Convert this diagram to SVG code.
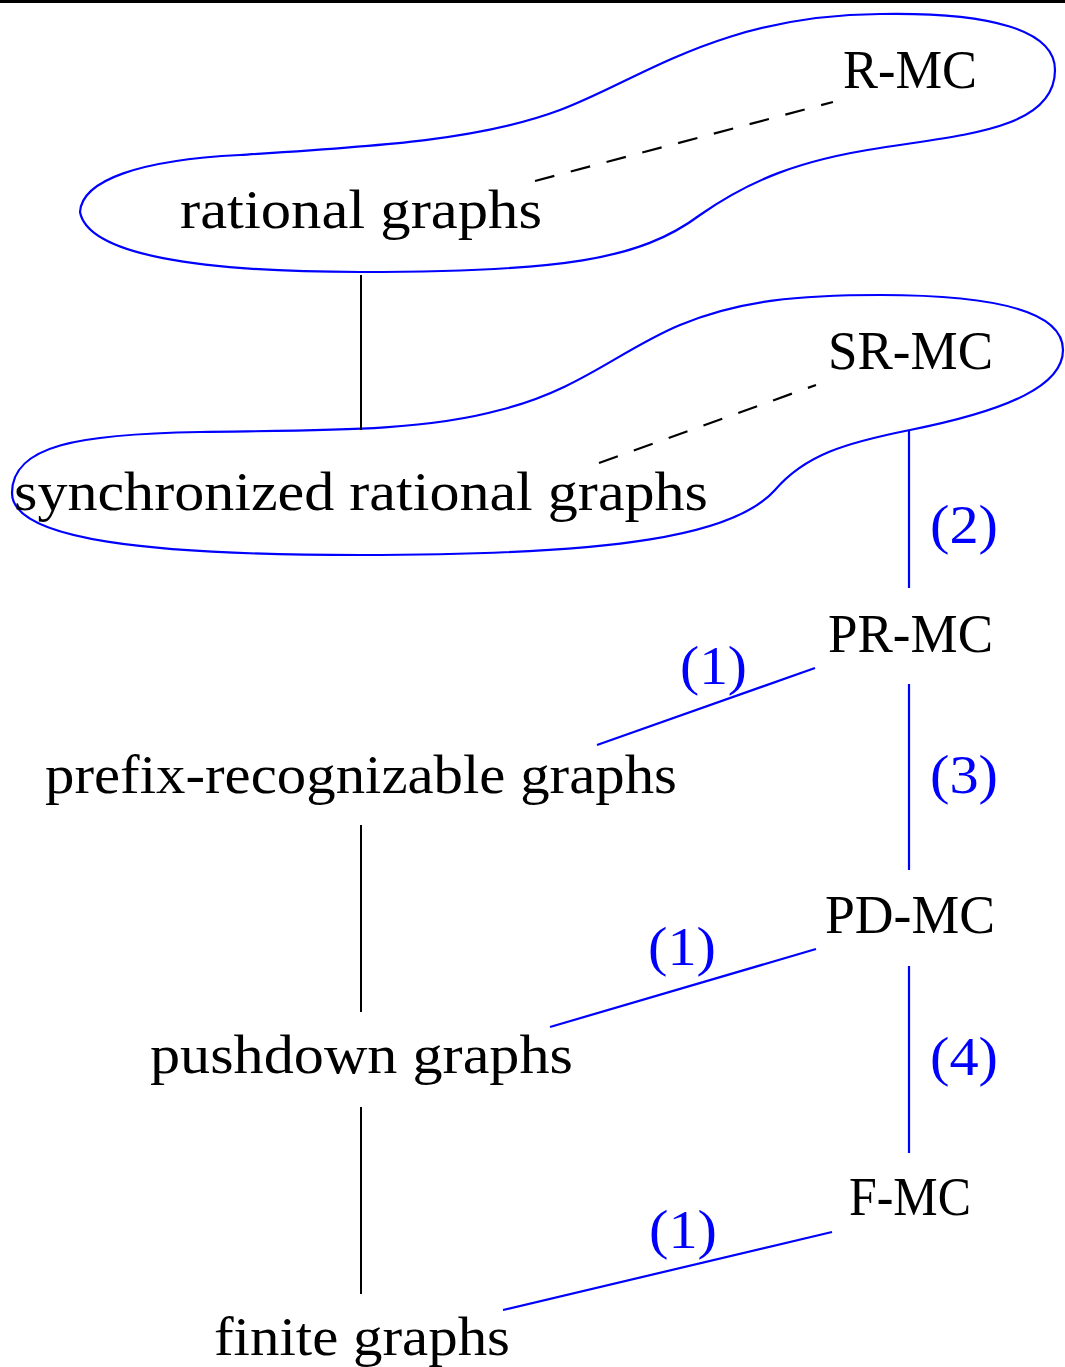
<svg xmlns="http://www.w3.org/2000/svg" width="1065" height="1367" viewBox="0 0 1065 1367">
<style>
text { font-family: "Liberation Serif", "DejaVu Serif", serif; font-size: 54px; fill: #000; }
text.lbl { fill: #0000ff; }
.blk { stroke: #000; stroke-width: 2; fill: none; }
.dash { stroke: #000; stroke-width: 2.2; fill: none; stroke-dasharray: 20 17; }
.blu { stroke: #0000ff; stroke-width: 2.2; fill: none; }
.blob { stroke: #0000ff; stroke-width: 2.2; fill: none; }
</style>
<rect x="0" y="0" width="1065" height="1367" fill="#fff"/>
<line x1="0" y1="1.5" x2="1065" y2="1.5" stroke="#000" stroke-width="3"/>
<g id="blobs">
<path id="blob-rational" class="blob" d="M 80,212 C 82,180 140,160 240,155 C 380,146 480,140 560,110 C 640,80 720,15 880,14 C 990,12 1055,30 1055,70 C 1055,130 960,135 880,148 C 800,160 750,180 700,215 C 640,260 560,272 360,272 C 200,272 88,255 80,212 Z"/>
<path id="blob-sync" class="blob" d="M 12,493 C 12,445 80,434 200,432 C 320,430 420,432 500,410 C 580,390 620,350 680,325 C 740,300 800,295 880,295 C 990,295 1063,310 1063,350 C 1063,385 1010,410 910,430 C 845,443 805,455 775,490 C 735,535 620,555 360,555 C 150,555 12,540 12,493 Z"/>
</g>
<g id="connectors">
<line class="blk" x1="361" y1="275" x2="361" y2="430"/>
<line class="blk" x1="361" y1="825" x2="361" y2="1012"/>
<line class="blk" x1="361" y1="1107" x2="361" y2="1294"/>
<line class="dash" x1="535" y1="181" x2="833" y2="102"/>
<line class="dash" x1="599" y1="463" x2="816" y2="385"/>
<line class="blu" x1="909" y1="431" x2="909" y2="588"/>
<line class="blu" x1="597" y1="745" x2="815" y2="668"/>
<line class="blu" x1="909" y1="684" x2="909" y2="870"/>
<line class="blu" x1="550" y1="1027" x2="816" y2="949"/>
<line class="blu" x1="909" y1="966" x2="909" y2="1153"/>
<line class="blu" x1="503" y1="1310" x2="832" y2="1232"/>
<text class="lbl" x="930" y="543" textLength="68" lengthAdjust="spacingAndGlyphs">(2)</text>
<text class="lbl" x="680" y="684" textLength="67" lengthAdjust="spacingAndGlyphs">(1)</text>
<text class="lbl" x="930" y="793" textLength="68" lengthAdjust="spacingAndGlyphs">(3)</text>
<text class="lbl" x="648" y="965" textLength="68" lengthAdjust="spacingAndGlyphs">(1)</text>
<text class="lbl" x="930" y="1075" textLength="68" lengthAdjust="spacingAndGlyphs">(4)</text>
<text class="lbl" x="649" y="1248" textLength="68" lengthAdjust="spacingAndGlyphs">(1)</text>
</g>
<g id="node-rmc"><text x="843" y="88" textLength="134" lengthAdjust="spacingAndGlyphs">R-MC</text></g>
<g id="node-rational"><text x="180" y="228" textLength="362" lengthAdjust="spacingAndGlyphs">rational graphs</text></g>
<g id="node-srmc"><text x="828" y="369" textLength="165" lengthAdjust="spacingAndGlyphs">SR-MC</text></g>
<g id="node-sync"><text x="14" y="510" textLength="694" lengthAdjust="spacingAndGlyphs">synchronized rational graphs</text></g>
<g id="node-prmc"><text x="828" y="652" textLength="165" lengthAdjust="spacingAndGlyphs">PR-MC</text></g>
<g id="node-prefix"><text x="45" y="793" textLength="632" lengthAdjust="spacingAndGlyphs">prefix-recognizable graphs</text></g>
<g id="node-pdmc"><text x="825" y="933" textLength="170" lengthAdjust="spacingAndGlyphs">PD-MC</text></g>
<g id="node-pushdown"><text x="150" y="1073" textLength="423" lengthAdjust="spacingAndGlyphs">pushdown graphs</text></g>
<g id="node-fmc"><text x="849" y="1215" textLength="122" lengthAdjust="spacingAndGlyphs">F-MC</text></g>
<g id="node-finite"><text x="214" y="1355" textLength="296" lengthAdjust="spacingAndGlyphs">finite graphs</text></g>
</svg>
